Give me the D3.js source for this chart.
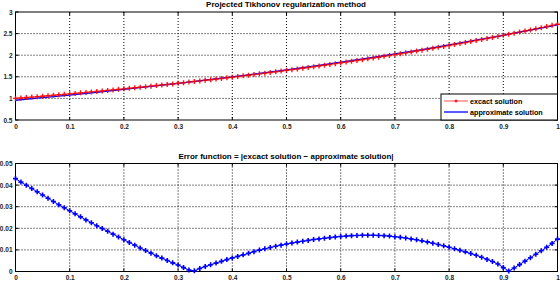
<!DOCTYPE html>
<html>
<head>
<meta charset="utf-8">
<script src="https://cdn.jsdelivr.net/npm/d3@7"></script>
<style>
  body { margin: 0; background: #fff; }
  text { font-family: "Liberation Sans", Arial, sans-serif; }
</style>
</head>
<body>
<main></main>
<script>
const svgWidth = 560,
  svgHeight = 281;

// sample points (x)
const xs = [0.00,0.01,0.02,0.03,0.04,0.05,0.06,0.07,0.08,0.09,0.10,0.11,0.12,0.13,0.14,0.15,0.16,0.17,0.18,0.19,
  0.20,0.21,0.22,0.23,0.24,0.25,0.26,0.27,0.28,0.29,0.30,0.31,0.32,0.33,0.34,0.35,0.36,0.37,0.38,0.39,
  0.40,0.41,0.42,0.43,0.44,0.45,0.46,0.47,0.48,0.49,0.50,0.51,0.52,0.53,0.54,0.55,0.56,0.57,0.58,0.59,
  0.60,0.61,0.62,0.63,0.64,0.65,0.66,0.67,0.68,0.69,0.70,0.71,0.72,0.73,0.74,0.75,0.76,0.77,0.78,0.79,
  0.80,0.81,0.82,0.83,0.84,0.85,0.86,0.87,0.88,0.89,0.90,0.91,0.92,0.93,0.94,0.95,0.96,0.97,0.98,0.99,1.00];

const exact = [1.000,1.010,1.020,1.030,1.041,1.051,1.062,1.073,1.083,1.094,1.105,1.116,1.128,1.139,1.150,1.162,1.174,1.185,1.197,1.209,
  1.221,1.234,1.246,1.259,1.271,1.284,1.297,1.310,1.323,1.336,1.350,1.363,1.377,1.391,1.405,1.419,1.433,1.448,1.462,1.477,
  1.492,1.507,1.522,1.537,1.553,1.568,1.584,1.600,1.616,1.632,1.649,1.665,1.682,1.699,1.716,1.733,1.751,1.768,1.786,1.804,
  1.822,1.840,1.859,1.878,1.896,1.916,1.935,1.954,1.974,1.994,2.014,2.034,2.054,2.075,2.096,2.117,2.138,2.160,2.182,2.203,
  2.226,2.248,2.271,2.293,2.316,2.340,2.363,2.387,2.411,2.435,2.460,2.484,2.509,2.535,2.560,2.586,2.612,2.638,2.664,2.691,2.718];

// approximate solution (blue line)
const approxX = [0,0.05,0.10,0.15,0.20,0.25,0.30,0.35,0.40,0.45,0.50,0.55,0.60,0.65,0.70,0.75,0.80,0.85,0.90,0.95,1.00];
const approx = [0.957,1.016,1.077,1.141,1.207,1.276,1.347,1.421,1.498,1.578,1.661,1.748,1.838,1.932,2.030,2.131,2.237,2.347,2.461,2.579,2.703];

const errorVals = [0.0430,0.0414,0.0399,0.0384,0.0369,0.0354,0.0339,0.0324,0.0309,0.0295,0.0281,0.0267,0.0253,0.0239,0.0226,0.0212,0.0199,0.0186,0.0173,0.0160,
  0.0147,0.0134,0.0122,0.0109,0.0097,0.0085,0.0073,0.0062,0.0051,0.0040,0.0030,0.0018,0.0007,0.0003,0.0014,0.0023,0.0031,0.0039,0.0047,0.0055,
  0.0063,0.0070,0.0077,0.0084,0.0092,0.0099,0.0105,0.0111,0.0117,0.0122,0.0127,0.0132,0.0136,0.0140,0.0144,0.0148,0.0151,0.0154,0.0157,0.0160,
  0.0162,0.0164,0.0166,0.0167,0.0168,0.0168,0.0168,0.0167,0.0166,0.0164,0.0161,0.0158,0.0155,0.0151,0.0147,0.0142,0.0137,0.0131,0.0125,0.0119,
  0.0112,0.0105,0.0098,0.0091,0.0083,0.0075,0.0066,0.0056,0.0046,0.0035,0.0018,0.0002,0.0016,0.0032,0.0048,0.0064,0.0080,0.0096,0.0112,0.0130,0.0150];

const xTicks = [0,0.1,0.2,0.3,0.4,0.5,0.6,0.7,0.8,0.9,1];
const topYTicks = [0.5,1,1.5,2,2.5,3];
const botYTicks = [0,0.01,0.02,0.03,0.04,0.05];
const legendLabels = ["excact solution", "approximate solution"];

const svg = d3.select("main").append("svg")
  .attr("width", svgWidth)
  .attr("height", svgHeight);

function makeAxes(top, bottom, yDomain, yTicks, title) {
  const x = d3.scaleLinear().domain([0, 1]).range([15.5, 557.5]);
  const y = d3.scaleLinear().domain(yDomain).range([bottom, top]);
  const g = svg.append("g");

  // grid
  g.append("g").selectAll("line").data(xTicks.slice(1, -1)).join("line")
    .attr("x1", d => x(d)).attr("x2", d => x(d))
    .attr("y1", top).attr("y2", bottom)
    .attr("stroke", "#000").attr("stroke-width", 1)
    .attr("stroke-dasharray", "1,2");
  g.append("g").selectAll("line").data(yTicks.slice(1, -1)).join("line")
    .attr("y1", d => y(d)).attr("y2", d => y(d))
    .attr("x1", x(0)).attr("x2", x(1))
    .attr("stroke", "#000").attr("stroke-width", 1)
    .attr("stroke-dasharray", "1,2");

  const xAxis = d3.axisBottom(x).tickValues(xTicks).tickSize(0).tickPadding(4)
    .tickFormat(d => d3.format("")(d));
  const yAxis = d3.axisLeft(y).tickValues(yTicks).tickSize(0).tickPadding(3)
    .tickFormat(d => d3.format("")(d));
  g.append("g").attr("transform", `translate(0,${bottom})`).call(xAxis)
    .call(a => a.select(".domain").remove())
    .selectAll("text").attr("font-size", 6.5).attr("font-weight", "bold").attr("fill", "#222");
  g.append("g").attr("transform", `translate(${x(0)},0)`).call(yAxis)
    .call(a => a.select(".domain").remove())
    .selectAll("text").attr("font-size", 6.5).attr("font-weight", "bold").attr("fill", "#222");

  // inward tick marks
  xTicks.forEach(t => {
    g.append("line").attr("x1", x(t)).attr("x2", x(t)).attr("y1", bottom).attr("y2", bottom - 3).attr("stroke", "#000");
    g.append("line").attr("x1", x(t)).attr("x2", x(t)).attr("y1", top).attr("y2", top + 3).attr("stroke", "#000");
  });
  yTicks.forEach(t => {
    g.append("line").attr("x1", x(0)).attr("x2", x(0) + 3).attr("y1", y(t)).attr("y2", y(t)).attr("stroke", "#000");
    g.append("line").attr("x1", x(1)).attr("x2", x(1) - 3).attr("y1", y(t)).attr("y2", y(t)).attr("stroke", "#000");
  });

  g.append("rect").attr("x", x(0)).attr("y", top)
    .attr("width", x(1) - x(0)).attr("height", bottom - top)
    .attr("fill", "none").attr("stroke", "#000").attr("stroke-width", 1);

  g.append("text").attr("x", 286).attr("y", top - 5)
    .attr("text-anchor", "middle").attr("font-size", 8).attr("font-weight", "bold")
    .text(title);
  return { g, x, y };
}

function plus(sel, x, y, color, s, w) {
  sel.append("path")
    .attr("d", `M${x - s},${y}H${x + s}M${x},${y - s}V${y + s}`)
    .attr("stroke", color).attr("stroke-width", w).attr("fill", "none");
}

// top plot
const p1 = makeAxes(12, 120, [0.5, 3], topYTicks, "Projected Tikhonov regularization method");
const line1 = d3.line().x((d, i) => p1.x(xs[i])).y(d => p1.y(d));
p1.g.append("path").datum(exact).attr("d", line1)
  .attr("fill", "none").attr("stroke", "#ff6a6a").attr("stroke-width", 1.2);
const line1b = d3.line().x((d, i) => p1.x(approxX[i])).y(d => p1.y(d));
p1.g.append("path").datum(approx).attr("d", line1b)
  .attr("fill", "none").attr("stroke", "#0000ff").attr("stroke-width", 1.3);
const mk1 = p1.g.append("g").attr("opacity", 0.9);
exact.forEach((d, i) => plus(mk1, p1.x(xs[i]), p1.y(d), "#ff0000", 2.5, 1.4));

// legend
const lg = p1.g.append("g").attr("transform", "translate(441,94)");
lg.append("rect").attr("width", 116.5).attr("height", 26).attr("fill", "#fff").attr("stroke", "#000");
lg.append("line").attr("x1", 3).attr("x2", 27).attr("y1", 7).attr("y2", 7).attr("stroke", "#ff6a6a").attr("stroke-width", 1.2);
plus(lg, 15, 7, "#ff0000", 1.5, 1.2);
lg.append("line").attr("x1", 3).attr("x2", 27).attr("y1", 18).attr("y2", 18).attr("stroke", "#0000ff").attr("stroke-width", 1.3);
legendLabels.forEach((t, i) => {
  lg.append("text").attr("x", 29).attr("y", 9.5 + i * 11)
    .attr("font-size", 7.2).attr("font-weight", "bold").text(t);
});

// bottom plot
const p2 = makeAxes(163.5, 271.5, [0, 0.05], botYTicks, "Error function = |excact solution \u2212 approximate solution|");
const line2 = d3.line().x((d, i) => p2.x(xs[i])).y(d => p2.y(d));
p2.g.append("path").datum(errorVals).attr("d", line2)
  .attr("fill", "none").attr("stroke", "#0000ff").attr("stroke-width", 1);
const mk2 = p2.g.append("g");
errorVals.forEach((d, i) => plus(mk2, p2.x(xs[i]), p2.y(d), "#0000ff", 2.5, 1.6));
</script>
</body>
</html>
